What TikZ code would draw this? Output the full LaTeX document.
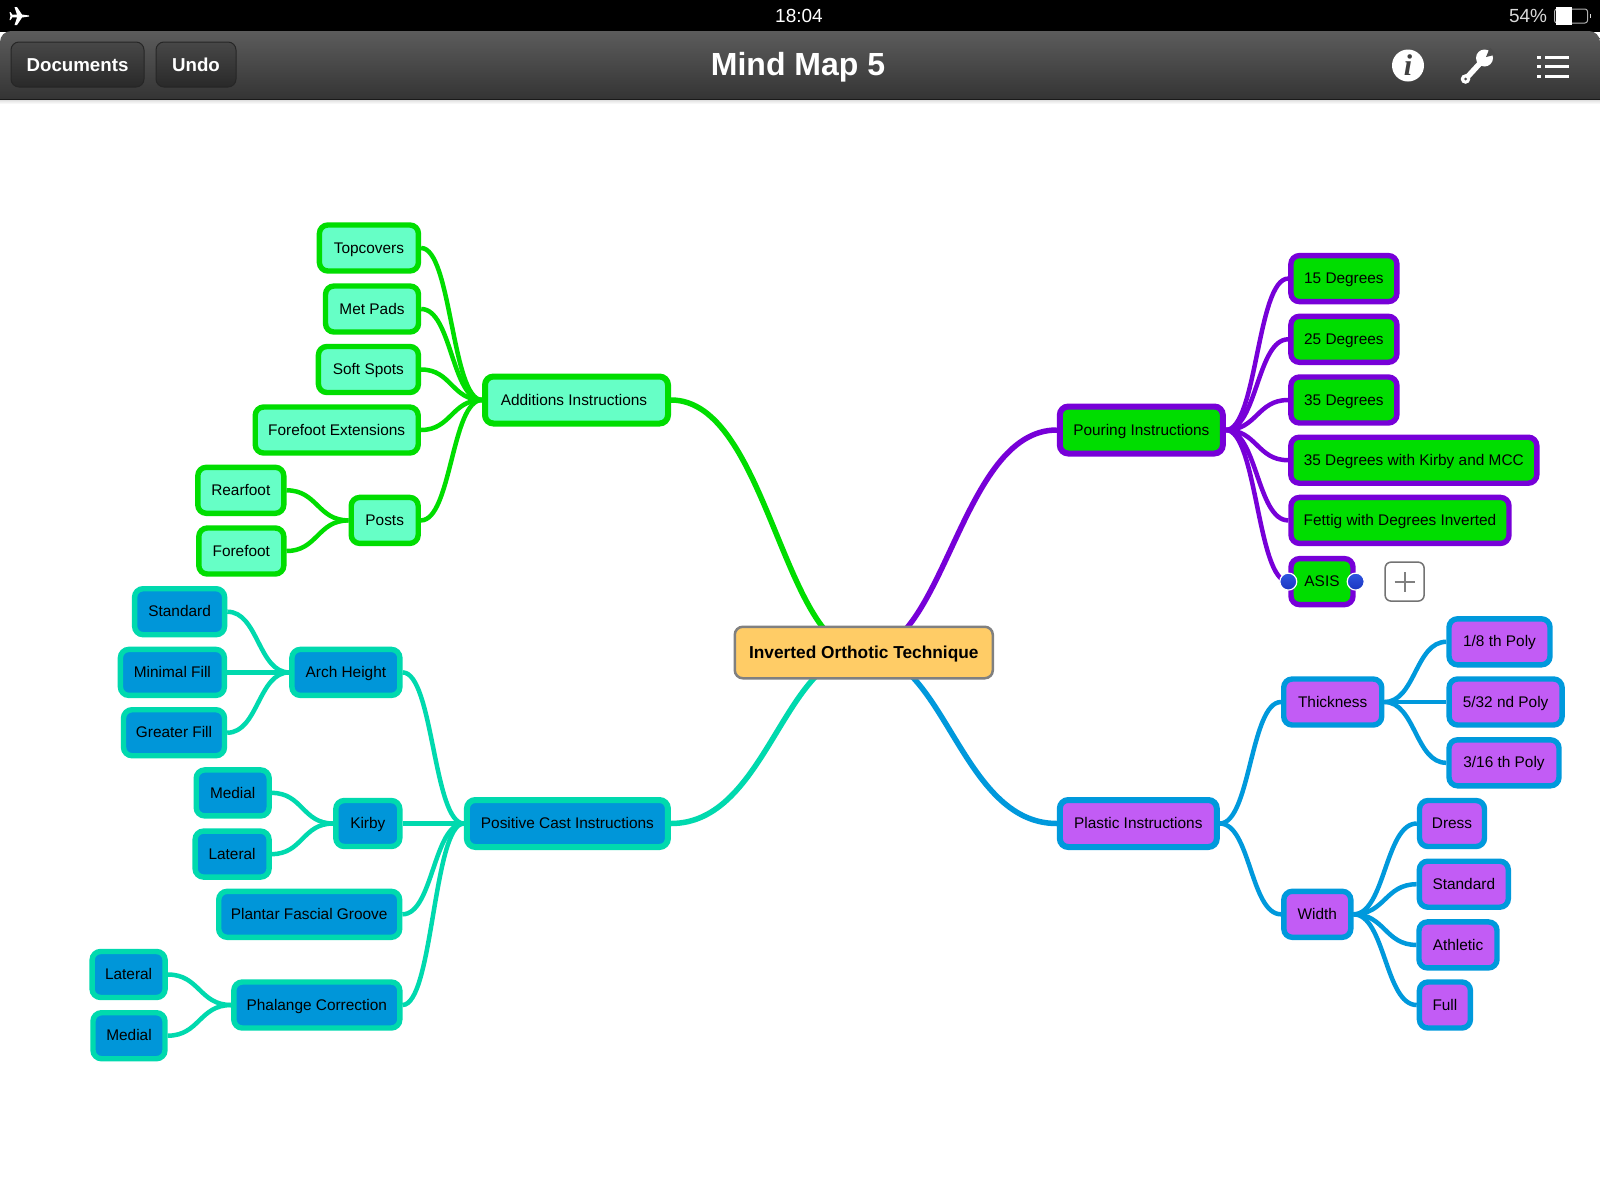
\documentclass[tikz,border=0pt]{standalone}
\usepackage{fontspec}
\setmainfont{Liberation Sans}
\newfontfamily\infofont{Liberation Serif}
\usepackage{xcolor}
\usetikzlibrary{calc, backgrounds}
\definecolor{addgreen}{HTML}{00DD00}
\definecolor{addmint}{HTML}{66FFC6}
\definecolor{pourviolet}{HTML}{7700D8}
\definecolor{castteal}{HTML}{00D9AE}
\definecolor{castblue}{HTML}{0096D9}
\definecolor{plasticblue}{HTML}{0099DC}
\definecolor{plasticpurple}{HTML}{C25CF5}
\definecolor{rootorange}{HTML}{FFCC66}
\definecolor{handletop}{HTML}{2F55E0}
\definecolor{handlebottom}{HTML}{1A35C0}
\newcommand{\curvelink}[3]{\draw[#1] (#2) .. controls ($(#2)!0.5!(#3 |- #2)$) and ($(#3)!0.5!(#2 |- #3)$) .. (#3);}
\newcommand{\rootlink}[3]{\draw[#1] (#2) .. controls ($(#2)!0.5!(#3 |- #2)$) and ($(#3)!0.42!(#2 |- #3)$) .. (#3);}

\begin{document}
\begin{tikzpicture}[
  x=1pt, y=-1pt,
  mapblock/.style={draw, line width=5.4pt, rounded corners=8.5pt, minimum height=46pt,
    inner sep=0pt, align=center, text height=13.7pt, text depth=3.4pt,
    font=\fontsize{15.4}{18}\selectfont},
  addblock/.style={mapblock, draw=addgreen, fill=addmint},
  pourblock/.style={mapblock, draw=pourviolet, fill=addgreen},
  castblock/.style={mapblock, draw=castteal, fill=castblue},
  plasticblock/.style={mapblock, draw=plasticblue, fill=plasticpurple},
  mainblock/.style={line width=6pt, minimum height=47pt},
  mainlink/.style={line width=5.5pt},
  leaflink/.style={line width=4.5pt},
  handle/.style={circle, draw=white, line width=1.2pt, inner sep=0pt, minimum size=17pt,
    top color=handletop, bottom color=handlebottom},
  barbutton/.style={draw=black!85, line width=1pt, rounded corners=8pt, minimum height=45pt,
    top color=black!72, bottom color=black!84, inner sep=0pt, text=white,
    text height=15pt, text depth=2pt, font=\fontsize{18.7}{22}\selectfont\bfseries},
  bartext/.style={text=white, inner sep=0pt},
]

\begin{scope}[on background layer]
  \path[use as bounding box, fill=white] (0,0) rectangle (1600,1200);
\end{scope}

% ===== TOP BAR =====
\fill[black] (0,0) rectangle (1600,32);
\shade[top color=black!64, bottom color=black!82, rounded corners=11pt]
  (0,110) -- (0,31) -- (1600,31) -- (1600,110) -- cycle;
\fill[white] (0,100) rectangle (1600,112);
\fill[black!90] (0,98.5) rectangle (1600,100);
\shade[top color=black!12, bottom color=white] (0,100) rectangle (1600,104);

\fill[white] (29,15.5) -- (22,14.5) -- (17,7) -- (14.5,7) -- (17,14.5) -- (12.5,14.8) -- (10.5,12)
  -- (9.5,12) -- (10.5,16) -- (9.5,20) -- (10.5,20) -- (12.5,17.2) -- (17,17.5) -- (14.5,25)
  -- (17,25) -- (22,17.5) -- (29,16.5) -- cycle;
\node[bartext, font=\fontsize{19}{23}\selectfont] (clock) at (799,16) {18:04};
\node[bartext, font=\fontsize{19}{23}\selectfont, text=white!85!black] (percent) at (1528,16) {54\%};
\node[draw=white!70!black, line width=1pt, rounded corners=2.5pt, minimum width=33pt,
  minimum height=14pt, inner sep=0pt] (battery) at (1571,16) {};
\fill[white] ([shift={(1.5pt,-1.5pt)}]battery.south west) rectangle ([shift={(17.5pt,1.5pt)}]battery.north west);
\fill[white!85!black] ([xshift=1.5pt,yshift=2pt]battery.east) rectangle ([xshift=3pt,yshift=-2pt]battery.east);

\node[barbutton, minimum width=133pt] (documents) at (77.5,64.5) {Documents};
\node[barbutton, minimum width=80pt] (undo) at (196,64.5) {Undo};
\node[bartext, font=\fontsize{32}{38}\selectfont\bfseries] (title) at (798,67.5) {Mind Map 5};

% info, wrench, list
\node[circle, fill=white, minimum size=32pt, inner sep=0pt, text=black!75,
  font=\infofont\fontsize{30}{34}\selectfont\bfseries\itshape] (info) at (1408,65.5) {i};
\draw[white, line width=5.5pt, line cap=round] (1466,78.5) -- (1483,60);
\fill[white] (1465.5,79) circle (4.8pt);
\fill[white] (1484.5,58) circle (8.5pt);
\fill[black!70] (1486,57) -- (1490,47.5) -- (1496,54.5) -- cycle;
\fill[black!70] (1465.5,79) circle (1.5pt);
\foreach \y in {57,66,76} {
  \fill[white] (1545,\y-1.5) rectangle (1569,\y+1.5);
  \fill[white] (1537,\y-1.5) rectangle (1540.5,\y+1.5);
}

% ===== ROOT =====
\node[mapblock, draw=black!50, line width=2.5pt, fill=rootorange, rounded corners=8pt,
  minimum width=258pt, minimum height=51.5pt, text height=15pt, text depth=3.5pt,
  font=\fontsize{17.3}{21}\selectfont\bfseries]
  (root) at (863.8,652.5) {Inverted Orthotic Technique};

% ===== TOP LEFT: Additions =====
\node[addblock, mainblock, minimum width=183pt] (additions) at (576.5,400) {Additions Instructions\hspace*{5pt}};
\node[addblock, minimum width=99pt] (topcovers) at (368.9,248) {Topcovers};
\node[addblock, minimum width=93pt] (metpads) at (372,309) {Met Pads};
\node[addblock, minimum width=100pt] (softspots) at (368.4,369.5) {Soft Spots};
\node[addblock, minimum width=163pt] (extensions) at (336.7,430) {Forefoot Extensions};
\node[addblock, minimum width=67pt] (posts) at (384.7,520.4) {Posts};
\node[addblock, minimum width=86pt] (rearfoot) at (240.8,490.3) {Rearfoot};
\node[addblock, minimum width=85pt] (forefoot) at (241.3,551) {Forefoot};

% ===== BOTTOM LEFT: Positive Cast =====
\node[castblock, mainblock, minimum width=201pt] (positive) at (567.4,823.5) {Positive Cast Instructions};
\node[castblock, minimum width=108pt] (arch) at (345.9,672.4) {Arch Height};
\node[castblock, minimum width=90pt] (archstandard) at (179.6,611.7) {Standard};
\node[castblock, minimum width=104pt] (minimal) at (172.4,672.4) {Minimal Fill};
\node[castblock, minimum width=101pt] (greater) at (174,732.7) {Greater Fill};
\node[castblock, minimum width=64pt] (kirby) at (367.8,823.5) {Kirby};
\node[castblock, minimum width=73pt] (kirbymedial) at (232.7,792.9) {Medial};
\node[castblock, minimum width=74pt] (kirbylateral) at (232.1,854.1) {Lateral};
\node[castblock, minimum width=181pt] (plantar) at (309.2,914.3) {Plantar Fascial Groove};
\node[castblock, minimum width=166pt] (phalange) at (316.8,1005) {Phalange Correction};
\node[castblock, minimum width=73pt] (phalateral) at (128.6,974.5) {Lateral};
\node[castblock, minimum width=72pt] (phamedial) at (129,1035.7) {Medial};

% ===== TOP RIGHT: Pouring =====
\node[pourblock, mainblock, minimum width=163pt] (pouring) at (1141.3,430) {Pouring Instructions};
\node[pourblock, minimum width=106pt] (deg15) at (1343.9,278.6) {15 Degrees};
\node[pourblock, minimum width=106pt] (deg25) at (1343.9,339.3) {25 Degrees};
\node[pourblock, minimum width=106pt] (deg35) at (1343.9,400) {35 Degrees};
\node[pourblock, minimum width=246pt] (kirbymcc) at (1413.8,460.2) {35 Degrees with Kirby and MCC};
\node[pourblock, minimum width=218pt] (fettig) at (1400,520.4) {Fettig with Degrees Inverted};
\node[pourblock, minimum width=62pt] (asis) at (1322,581.6) {ASIS};
\node[handle] (asisleft) at (asis.west) {};
\node[handle] (asisright) at (asis.east) {};
\node[draw=black!55, line width=1.5pt, rounded corners=6pt, fill=white, minimum size=39pt,
  inner sep=0pt] (plus) at (1404.6,581.6) {};
\draw[black!50, line width=2pt] ([xshift=-10pt]plus.center) -- ([xshift=10pt]plus.center);
\draw[black!50, line width=2pt] ([yshift=-10pt]plus.center) -- ([yshift=10pt]plus.center);

% ===== BOTTOM RIGHT: Plastic =====
\node[plasticblock, mainblock, minimum width=157pt] (plastic) at (1138.3,823.5) {Plastic Instructions};
\node[plasticblock, minimum width=98pt] (thickness) at (1332.7,702) {Thickness};
\node[plasticblock, minimum width=101pt] (poly18) at (1499.5,641.8) {1/8 th Poly};
\node[plasticblock, minimum width=113pt] (poly532) at (1505.6,702) {5/32 nd Poly};
\node[plasticblock, minimum width=110pt] (poly316) at (1504,762.8) {3/16 th Poly};
\node[plasticblock, minimum width=67pt] (width) at (1317.3,914.3) {Width};
\node[plasticblock, minimum width=65pt] (dress) at (1452,823.5) {Dress};
\node[plasticblock, minimum width=89pt] (standard) at (1463.8,884.2) {Standard};
\node[plasticblock, minimum width=78pt] (athletic) at (1458,944.9) {Athletic};
\node[plasticblock, minimum width=51pt] (full) at (1444.9,1005) {Full};

% ===== CONNECTORS =====
\begin{scope}[on background layer]
  \rootlink{mainlink, addgreen}{additions.east}{root.center}
  \rootlink{mainlink, castteal}{positive.east}{root.center}
  \rootlink{mainlink, pourviolet}{pouring.west}{root.center}
  \rootlink{mainlink, plasticblue}{plastic.west}{root.center}
  \foreach \a/\b in {topcovers/additions, metpads/additions, softspots/additions,
    extensions/additions, posts/additions, rearfoot/posts, forefoot/posts}
    \curvelink{leaflink, addgreen}{\a.east}{\b.west};
  \foreach \a/\b in {arch/positive, kirby/positive, plantar/positive, phalange/positive,
    archstandard/arch, minimal/arch, greater/arch, kirbymedial/kirby, kirbylateral/kirby,
    phalateral/phalange, phamedial/phalange}
    \curvelink{leaflink, castteal}{\a.east}{\b.west};
  \foreach \a/\b in {pouring/deg15, pouring/deg25, pouring/deg35, pouring/kirbymcc,
    pouring/fettig, pouring/asis}
    \curvelink{leaflink, pourviolet}{\a.east}{\b.west};
  \foreach \a/\b in {plastic/thickness, plastic/width, thickness/poly18, thickness/poly532,
    thickness/poly316, width/dress, width/standard, width/athletic, width/full}
    \curvelink{leaflink, plasticblue}{\a.east}{\b.west};
\end{scope}

\end{tikzpicture}
\end{document}
